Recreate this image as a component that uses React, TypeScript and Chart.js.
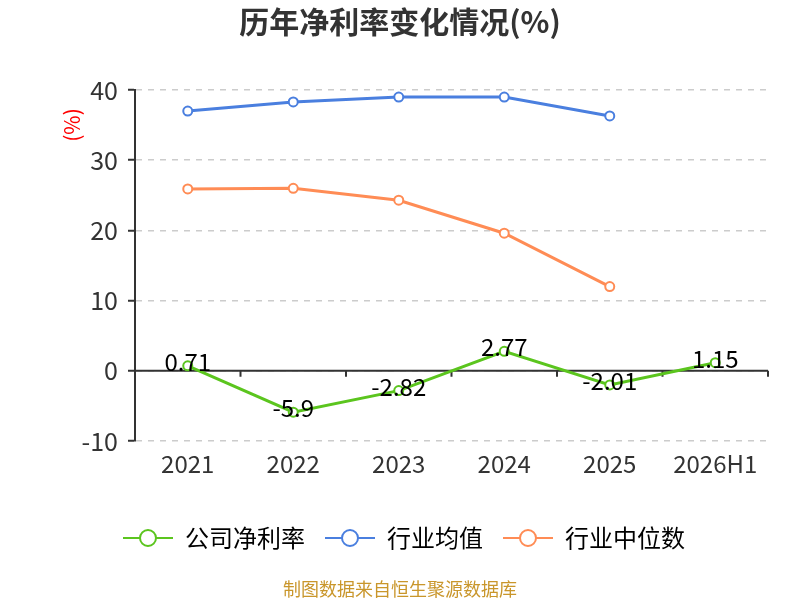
import { useEffect, useRef } from 'react';
import { Chart, registerables } from 'chart.js';

Chart.register(...registerables);

const years = ['2021', '2022', '2023', '2024', '2025', '2026H1'];
const companyRate = [0.71, -5.9, -2.82, 2.77, -2.01, 1.15];
const industryAvg = [37.0, 38.3, 39.0, 39.0, 36.3, null];
const industryMedian = [25.9, 26.0, 24.3, 19.6, 12.0, null];
const seriesNames = ['公司净利率', '行业均值', '行业中位数'];
const seriesColors = ['#5BC51E', '#4A7FDF', '#FF8C55'];

const FONT = '"Noto Sans CJK SC", "Noto Sans", sans-serif';

// legend symbol: short line with hollow circle in the middle (8px blank on the left for spacing)
function legendIcon(color: string) {
  const c = document.createElement('canvas');
  c.width = 58;
  c.height = 20;
  const ctx = c.getContext('2d')!;
  ctx.strokeStyle = color;
  ctx.lineWidth = 2;
  ctx.beginPath();
  ctx.moveTo(8, 10);
  ctx.lineTo(58, 10);
  ctx.stroke();
  ctx.beginPath();
  ctx.arc(33, 10, 8, 0, Math.PI * 2);
  ctx.fillStyle = '#fff';
  ctx.fill();
  ctx.stroke();
  return c;
}

const extras = {
  id: 'extras',
  beforeDatasetsDraw(chart: any) {
    const { ctx, scales } = chart;
    const x = scales.x;
    const y0 = scales.y.getPixelForValue(0);
    ctx.save();
    ctx.strokeStyle = '#333';
    ctx.lineWidth = 2;
    ctx.beginPath();
    ctx.moveTo(x.left, y0);
    ctx.lineTo(x.right, y0);
    const half = (x.getPixelForValue(1) - x.getPixelForValue(0)) / 2;
    for (let i = 0; i < years.length; i++) {
      const px = x.getPixelForValue(i) + half;
      ctx.moveTo(px, y0);
      ctx.lineTo(px, y0 + 6);
    }
    ctx.stroke();
    ctx.restore();
  },
  afterDatasetsDraw(chart: any) {
    const { ctx } = chart;
    const meta = chart.getDatasetMeta(0);
    ctx.save();
    ctx.font = `24px ${FONT}`;
    ctx.fillStyle = '#000';
    ctx.textAlign = 'center';
    ctx.textBaseline = 'middle';
    meta.data.forEach((pt: any, i: number) => {
      ctx.fillText(String(companyRate[i]), pt.x, pt.y - 4);
    });
    // y axis unit
    ctx.translate(72, 125);
    ctx.rotate(-Math.PI / 2);
    ctx.font = `21px ${FONT}`;
    ctx.fillStyle = '#FF0000';
    ctx.fillText('(%)', 0, 0);
    ctx.restore();
  },
};

export default function App() {
  const canvasRef = useRef<HTMLCanvasElement>(null);

  useEffect(() => {
    if (!canvasRef.current) return;
    const icons = seriesColors.map(legendIcon);
    const chart = new Chart(canvasRef.current, {
      type: 'line',
      data: {
        labels: years,
        datasets: [companyRate, industryAvg, industryMedian].map((d, i) => ({
          label: seriesNames[i],
          data: d,
          borderColor: seriesColors[i],
          backgroundColor: '#fff',
          borderWidth: 3,
          pointRadius: 4.5,
          pointBorderWidth: 2,
          pointBackgroundColor: '#fff',
          pointBorderColor: seriesColors[i],
          tension: 0,
        })),
      },
      options: {
        animation: false,
        responsive: false,
        layout: { padding: 0 },
        scales: {
          x: {
            offset: true,
            grid: { display: false, drawTicks: false },
            border: { display: false },
            ticks: { color: '#333', font: { size: 24, family: FONT }, padding: 8 },
            afterFit: (s: any) => { s.height = 73; },
          },
          y: {
            min: -10,
            max: 40,
            ticks: { stepSize: 10, color: '#333', font: { size: 25, family: FONT }, padding: 10 },
            grid: { color: '#CCCCCC', lineWidth: 1.5, tickColor: '#333', tickLength: 7, tickWidth: 2 },
            border: { display: true, color: '#333', width: 2, dash: [6, 6] },
            afterFit: (s: any) => { s.width = 135; },
          },
          // empty right margin so the plot ends at the same place as the reference
          yRight: {
            position: 'right',
            grid: { display: false, drawTicks: false },
            border: { display: false },
            ticks: { display: false },
            afterFit: (s: any) => { s.width = 32; },
          },
        },
        plugins: {
          title: {
            display: true,
            text: '历年净利率变化情况(%)',
            color: '#333',
            font: { size: 30, weight: 'bold', family: FONT },
            padding: { top: 4, bottom: 50 },
          },
          subtitle: {
            display: true,
            position: 'bottom',
            text: '制图数据来自恒生聚源数据库',
            color: '#C9962B',
            font: { size: 18, family: FONT },
            padding: { top: 18.4, bottom: 0 },
          },
          legend: {
            position: 'bottom',
            labels: {
              color: '#333',
              font: { size: 24, family: FONT },
              usePointStyle: true,
              pointStyleWidth: 58,
              padding: 12,
              generateLabels: () =>
                seriesNames.map((n, i) => ({
                  text: n,
                  pointStyle: icons[i],
                  fillStyle: '#fff',
                  strokeStyle: seriesColors[i],
                  lineWidth: 0,
                  datasetIndex: i,
                  hidden: false,
                })),
            },
          },
          tooltip: { enabled: false },
        },
      },
      plugins: [extras],
    });
    return () => chart.destroy();
  }, []);

  return (
    <div style={{ position: 'fixed', left: 0, top: 0, width: 800, height: 600, background: '#fff' }}>
      <canvas ref={canvasRef} width={800} height={600} style={{ width: 800, height: 600 }} />
    </div>
  );
}
